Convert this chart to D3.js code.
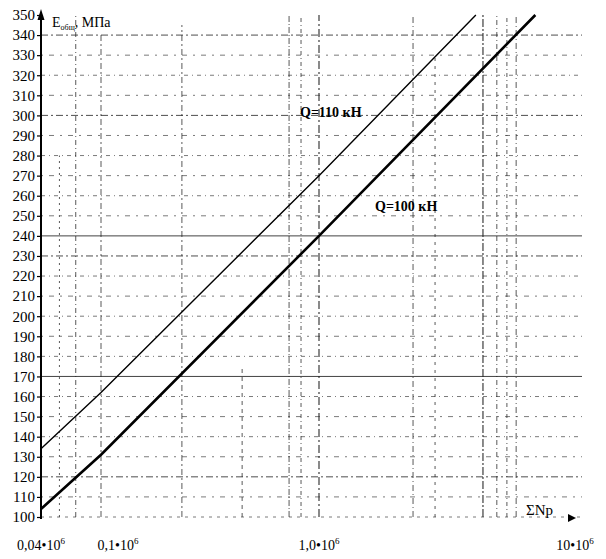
<!DOCTYPE html>
<html>
<head>
<meta charset="utf-8">
<script src="https://cdn.jsdelivr.net/npm/d3@7"></script>
<style>
  html, body { margin: 0; padding: 0; background: #fff; }
  svg text { font-family: "Liberation Serif", "DejaVu Serif", serif !important; fill: #000; }
</style>
</head>
<body>
<div id="chart"></div>
<script>
// ---- data (ΣNp in millions, E in MPa) ----
const xTickValues = [0.04, 0.1, 1, 10];
const xTickLabels = ["0,04•10", "0,1•10", "1,0•10", "10•10"];
const yTickValues = d3.range(100, 351, 10);
const gridXValues = [0.053, 0.068, 0.1, 0.235, 0.444, 0.729, 0.827, 1, 2.33, 2.84, 4.37, 4.95, 5.42, 5.89];

const q100X = [0.04, 0.1, 1, 7.0];
const q100Y = [104, 131, 240, 350];
const q110X = [0.04, 0.1, 1, 4.1];
const q110Y = [134, 162, 270, 350];

const seriesNames = ["Q=110 кН", "Q=100 кН"];

// ---- layout ----
const W = 606, H = 559;
const svg = d3.select("#chart").append("svg").attr("width", W).attr("height", H);

const x = d3.scaleLog().domain([0.04, 0.1, 1, 10]).range([41, 101, 319, 575]);
const y = d3.scaleLinear().domain([100, 350]).range([517, 15]);
const xRight = 582;
const FONT = "'Liberation Serif', 'DejaVu Serif', serif";

// horizontal grid
const hStyle = v => {
  if (v === 170 || v === 240) return { dash: null, w: 1, o: 0.85 };
  if (v === 120 || v === 300 || v === 340 || v === 230) return { dash: "7,3,2,3", w: 1, o: 0.8 };
  if (v === 100) return { dash: "3,5", w: 1, o: 0.6 };
  return { dash: (v / 10) % 2 ? "2,6,5,6" : "4,4,1,4", w: 1, o: 0.6 };
};
const hg = svg.append("g").attr("class", "hgrid");
hg.selectAll("line").data(yTickValues.filter(v => v < 350)).join("line")
  .attr("x1", x(0.04)).attr("x2", xRight)
  .attr("y1", d => y(d)).attr("y2", d => y(d))
  .attr("stroke", "#222")
  .attr("stroke-width", d => hStyle(d).w)
  .attr("stroke-opacity", d => hStyle(d).o)
  .attr("stroke-dasharray", d => hStyle(d).dash);

// vertical grid
const vStyle = (d, i) => {
  const patterns = ["2,4", "5,3,1,3", "6,3,2,3", "6,3,2,3", "4,4", "6,2,1,2", "4,3,1,3", "8,3,2,3", "6,3,1,3", "3,5", "8,2,2,2", "5,3,1,3", "4,3,1,3", "6,3,1,3"];
  return patterns[i % patterns.length];
};
const vTop = (d, i) => [y(280), y(350), y(340), y(345), y(175), y(350), y(350), y(350), y(350), y(330), y(350), y(350), y(350), y(350)][i];
const vg = svg.append("g").attr("class", "vgrid");
vg.selectAll("line").data(gridXValues).join("line")
  .attr("x1", d => x(d)).attr("x2", d => x(d))
  .attr("y1", y(100)).attr("y2", (d, i) => vTop(d, i))
  .attr("stroke", "#222")
  .attr("stroke-width", (d, i) => (i === 10 || i === 7) ? 1.4 : 1)
  .attr("stroke-opacity", 0.75)
  .attr("stroke-dasharray", vStyle);

// y axis
const yAxis = d3.axisLeft(y).tickValues(yTickValues).tickSize(4).tickPadding(2).tickFormat(d3.format("d"));
const ya = svg.append("g").attr("transform", `translate(${x(0.04)},0)`).call(yAxis)
  .attr("font-family", FONT).attr("font-size", 15);
ya.select(".domain").remove();
ya.selectAll(".tick line").attr("stroke", "#000").attr("stroke-width", 1.2);
ya.selectAll(".tick text").attr("fill", "#000");
svg.append("line").attr("x1", x(0.04)).attr("x2", x(0.04)).attr("y1", y(100) + 2).attr("y2", 14)
  .attr("stroke", "#000").attr("stroke-width", 2);
svg.append("path")
  .attr("d", `M${x(0.04) - 3.5},${20} L${x(0.04)},${9} L${x(0.04) + 3.5},${20} Z`)
  .attr("fill", "#000");

// y axis title
const yt = svg.append("text").attr("x", 52).attr("y", 27)
  .attr("font-family", FONT).attr("font-size", 14);
yt.append("tspan").text("E");
yt.append("tspan").attr("dy", 3).attr("font-size", 8).text("общ");
yt.append("tspan").attr("dy", -3).text(", МПа");

// x axis labels
const xl = svg.append("g").attr("font-family", FONT).attr("font-size", 14);
xTickValues.forEach((v, i) => {
  const t = xl.append("text")
    .attr("x", x(v) + (v === 0.1 ? 17 : 0))
    .attr("y", 550)
    .attr("text-anchor", "middle");
  t.append("tspan").text(xTickLabels[i]);
  t.append("tspan").attr("dy", -6).attr("font-size", 9).text("6");
});

// x axis arrow + title
svg.append("path")
  .attr("d", `M568,514 L576,518 L568,522 Z`).attr("fill", "#000");
svg.append("text").attr("x", 526).attr("y", 515)
  .attr("font-family", FONT).attr("font-size", 15).text("ΣNp");

// series lines
const line = d3.line().x(d => x(d[0])).y(d => y(d[1]));
const s110 = q110X.map((v, i) => [v, q110Y[i]]);
const s100 = q100X.map((v, i) => [v, q100Y[i]]);
svg.append("path").datum(s110).attr("d", line).attr("fill", "none")
  .attr("stroke", "#000").attr("stroke-width", 1.4);
svg.append("path").datum(s100).attr("d", line).attr("fill", "none")
  .attr("stroke", "#000").attr("stroke-width", 2.6);

// annotations
svg.append("text").attr("x", 300).attr("y", 117)
  .attr("font-family", FONT).attr("font-size", 14).attr("font-weight", "bold").text(seriesNames[0]);
svg.append("text").attr("x", 375).attr("y", 211)
  .attr("font-family", FONT).attr("font-size", 14).attr("font-weight", "bold").text(seriesNames[1]);
</script>
</body>
</html>
